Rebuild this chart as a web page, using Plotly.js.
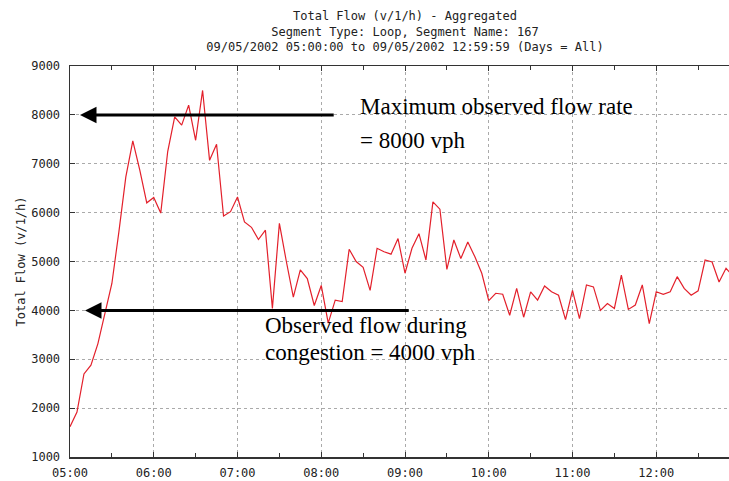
<!DOCTYPE html>
<html>
<head>
<meta charset="utf-8">
<script src="https://cdn.plot.ly/plotly-3.0.1.min.js"></script>
<style>
  html, body { margin: 0; padding: 0; overflow: hidden; background: #fff; }
  #chart { width: 745px; height: 481px; }
</style>
</head>
<body>
<div id="chart"></div>
<script>
// 5-minute samples starting 05:00
var startTime = '2002-09-05 05:00:00';
var stepMinutes = 5;

// Total flow (v/1/h)
var flowValues = [
    1620, 1920, 2700, 2880, 3320, 3930, 4550, 5600, 6730, 7470, 6870, 6200,
    6310, 5990, 7250, 7960, 7790, 8200, 7480, 8500, 7070, 7400, 5930, 6020,
    6320, 5810, 5700, 5450, 5640, 4040, 5780, 5000, 4270, 4830, 4650, 4100,
    4510, 3740, 4210, 4180, 5250, 5000, 4880, 4410, 5270, 5200, 5150, 5470,
    4760, 5270, 5570, 5030, 6220, 6070, 4840, 5440, 5060, 5400, 5100, 4760,
    4200, 4350, 4330, 3900, 4450, 3860, 4380, 4210, 4500, 4380, 4310, 3810,
    4410, 3830, 4520, 4480, 4000, 4140, 4040, 4720, 4020, 4110, 4520, 3730,
    4380, 4330, 4380, 4690, 4450, 4310, 4400, 5030, 4990, 4580, 4860, 4700
];

var titleLines = [
    'Total Flow (v/1/h) - Aggregated',
    'Segment Type: Loop, Segment Name: 167',
    '09/05/2002 05:00:00 to 09/05/2002 12:59:59 (Days = All)'
];

var maxFlowText = ['Maximum observed flow rate', '= 8000 vph'];
var congestionText = ['Observed flow during', 'congestion = 4000 vph'];

function pad(n) {
    return (n < 10 ? '0' : '') + n;
}

// Build the time stamps for every sample
var times = [];
for (let i = 0; i < flowValues.length; i++) {
    var mins = 5 * 60 + i * stepMinutes;
    times.push('2002-09-05 ' + pad(Math.floor(mins / 60)) + ':' + pad(mins % 60) + ':00');
}

var monoFont = {family: 'DejaVu Sans Mono, monospace', size: 12, color: '#222'};
var serifFont = {family: 'Liberation Serif, Times New Roman, serif', size: 23, color: '#000'};

var trace = {
    x: times,
    y: flowValues,
    type: 'scatter',
    mode: 'lines',
    line: {color: '#e3202b', width: 1.2},
    hoverinfo: 'skip'
};

var layout = {
    width: 745,
    height: 481,
    margin: {l: 70, r: 5, t: 66, b: 24},
    paper_bgcolor: '#fff',
    plot_bgcolor: '#fff',
    showlegend: false,
    title: {
        text: titleLines.join('<br>'),
        font: monoFont,
        x: 0.5,
        xref: 'paper',
        xanchor: 'center',
        y: 0.958,
        yref: 'container',
        yanchor: 'top'
    },
    xaxis: {
        type: 'date',
        range: ['2002-09-05 05:00:00', '2002-09-05 13:00:00'],
        dtick: 3600000,
        tick0: '2002-09-05 05:00:00',
        tickformat: '%H:%M',
        ticks: 'inside',
        ticklen: 5,
        tickcolor: '#333',
        ticklabelstandoff: 4,
        minor: {dtick: 1800000, ticks: 'inside', ticklen: 4, tickcolor: '#333', showgrid: false},
        showline: true,
        linecolor: '#333',
        linewidth: 1.5,
        mirror: 'ticks',
        showgrid: true,
        gridcolor: '#aaa',
        griddash: 'dot',
        gridwidth: 1,
        zeroline: false,
        tickfont: monoFont
    },
    yaxis: {
        range: [1000, 9000],
        dtick: 1000,
        ticks: 'inside',
        ticklen: 5,
        tickcolor: '#333',
        ticklabelstandoff: 6,
        showline: true,
        linecolor: '#333',
        linewidth: 1.5,
        mirror: 'ticks',
        showgrid: true,
        gridcolor: '#aaa',
        griddash: 'dot',
        gridwidth: 1,
        zeroline: false,
        tickfont: monoFont,
        title: {text: 'Total Flow (v/1/h)', font: monoFont, standoff: 3}
    },
    annotations: [
        // arrow pointing at the maximum flow level
        {
            x: '2002-09-05 05:07:10', y: 8000,
            ax: '2002-09-05 08:10:00', ay: 8000,
            xref: 'x', yref: 'y', axref: 'x', ayref: 'y',
            text: '', showarrow: true,
            arrowhead: 2, arrowsize: 1.1, arrowwidth: 3, arrowcolor: '#000',
            standoff: 0, startstandoff: 0
        },
        // arrow pointing at the congestion flow level
        {
            x: '2002-09-05 05:10:45', y: 4000,
            ax: '2002-09-05 09:03:45', ay: 4000,
            xref: 'x', yref: 'y', axref: 'x', ayref: 'y',
            text: '', showarrow: true,
            arrowhead: 2, arrowsize: 1.1, arrowwidth: 3, arrowcolor: '#000',
            standoff: 0, startstandoff: 0
        },
        {
            x: '2002-09-05 08:26:30', y: 8180, xref: 'x', yref: 'y',
            text: maxFlowText[0], showarrow: false,
            xanchor: 'left', yanchor: 'middle', font: serifFont
        },
        {
            x: '2002-09-05 08:26:30', y: 7470, xref: 'x', yref: 'y',
            text: maxFlowText[1], showarrow: false,
            xanchor: 'left', yanchor: 'middle', font: serifFont
        },
        {
            x: '2002-09-05 07:18:20', y: 3700, xref: 'x', yref: 'y',
            text: congestionText[0], showarrow: false,
            xanchor: 'left', yanchor: 'middle', font: serifFont
        },
        {
            x: '2002-09-05 07:18:20', y: 3130, xref: 'x', yref: 'y',
            text: congestionText[1], showarrow: false,
            xanchor: 'left', yanchor: 'middle', font: serifFont
        }
    ]
};

var config = {displayModeBar: false, staticPlot: true};

Plotly.newPlot('chart', [trace], layout, config);
</script>
</body>
</html>
